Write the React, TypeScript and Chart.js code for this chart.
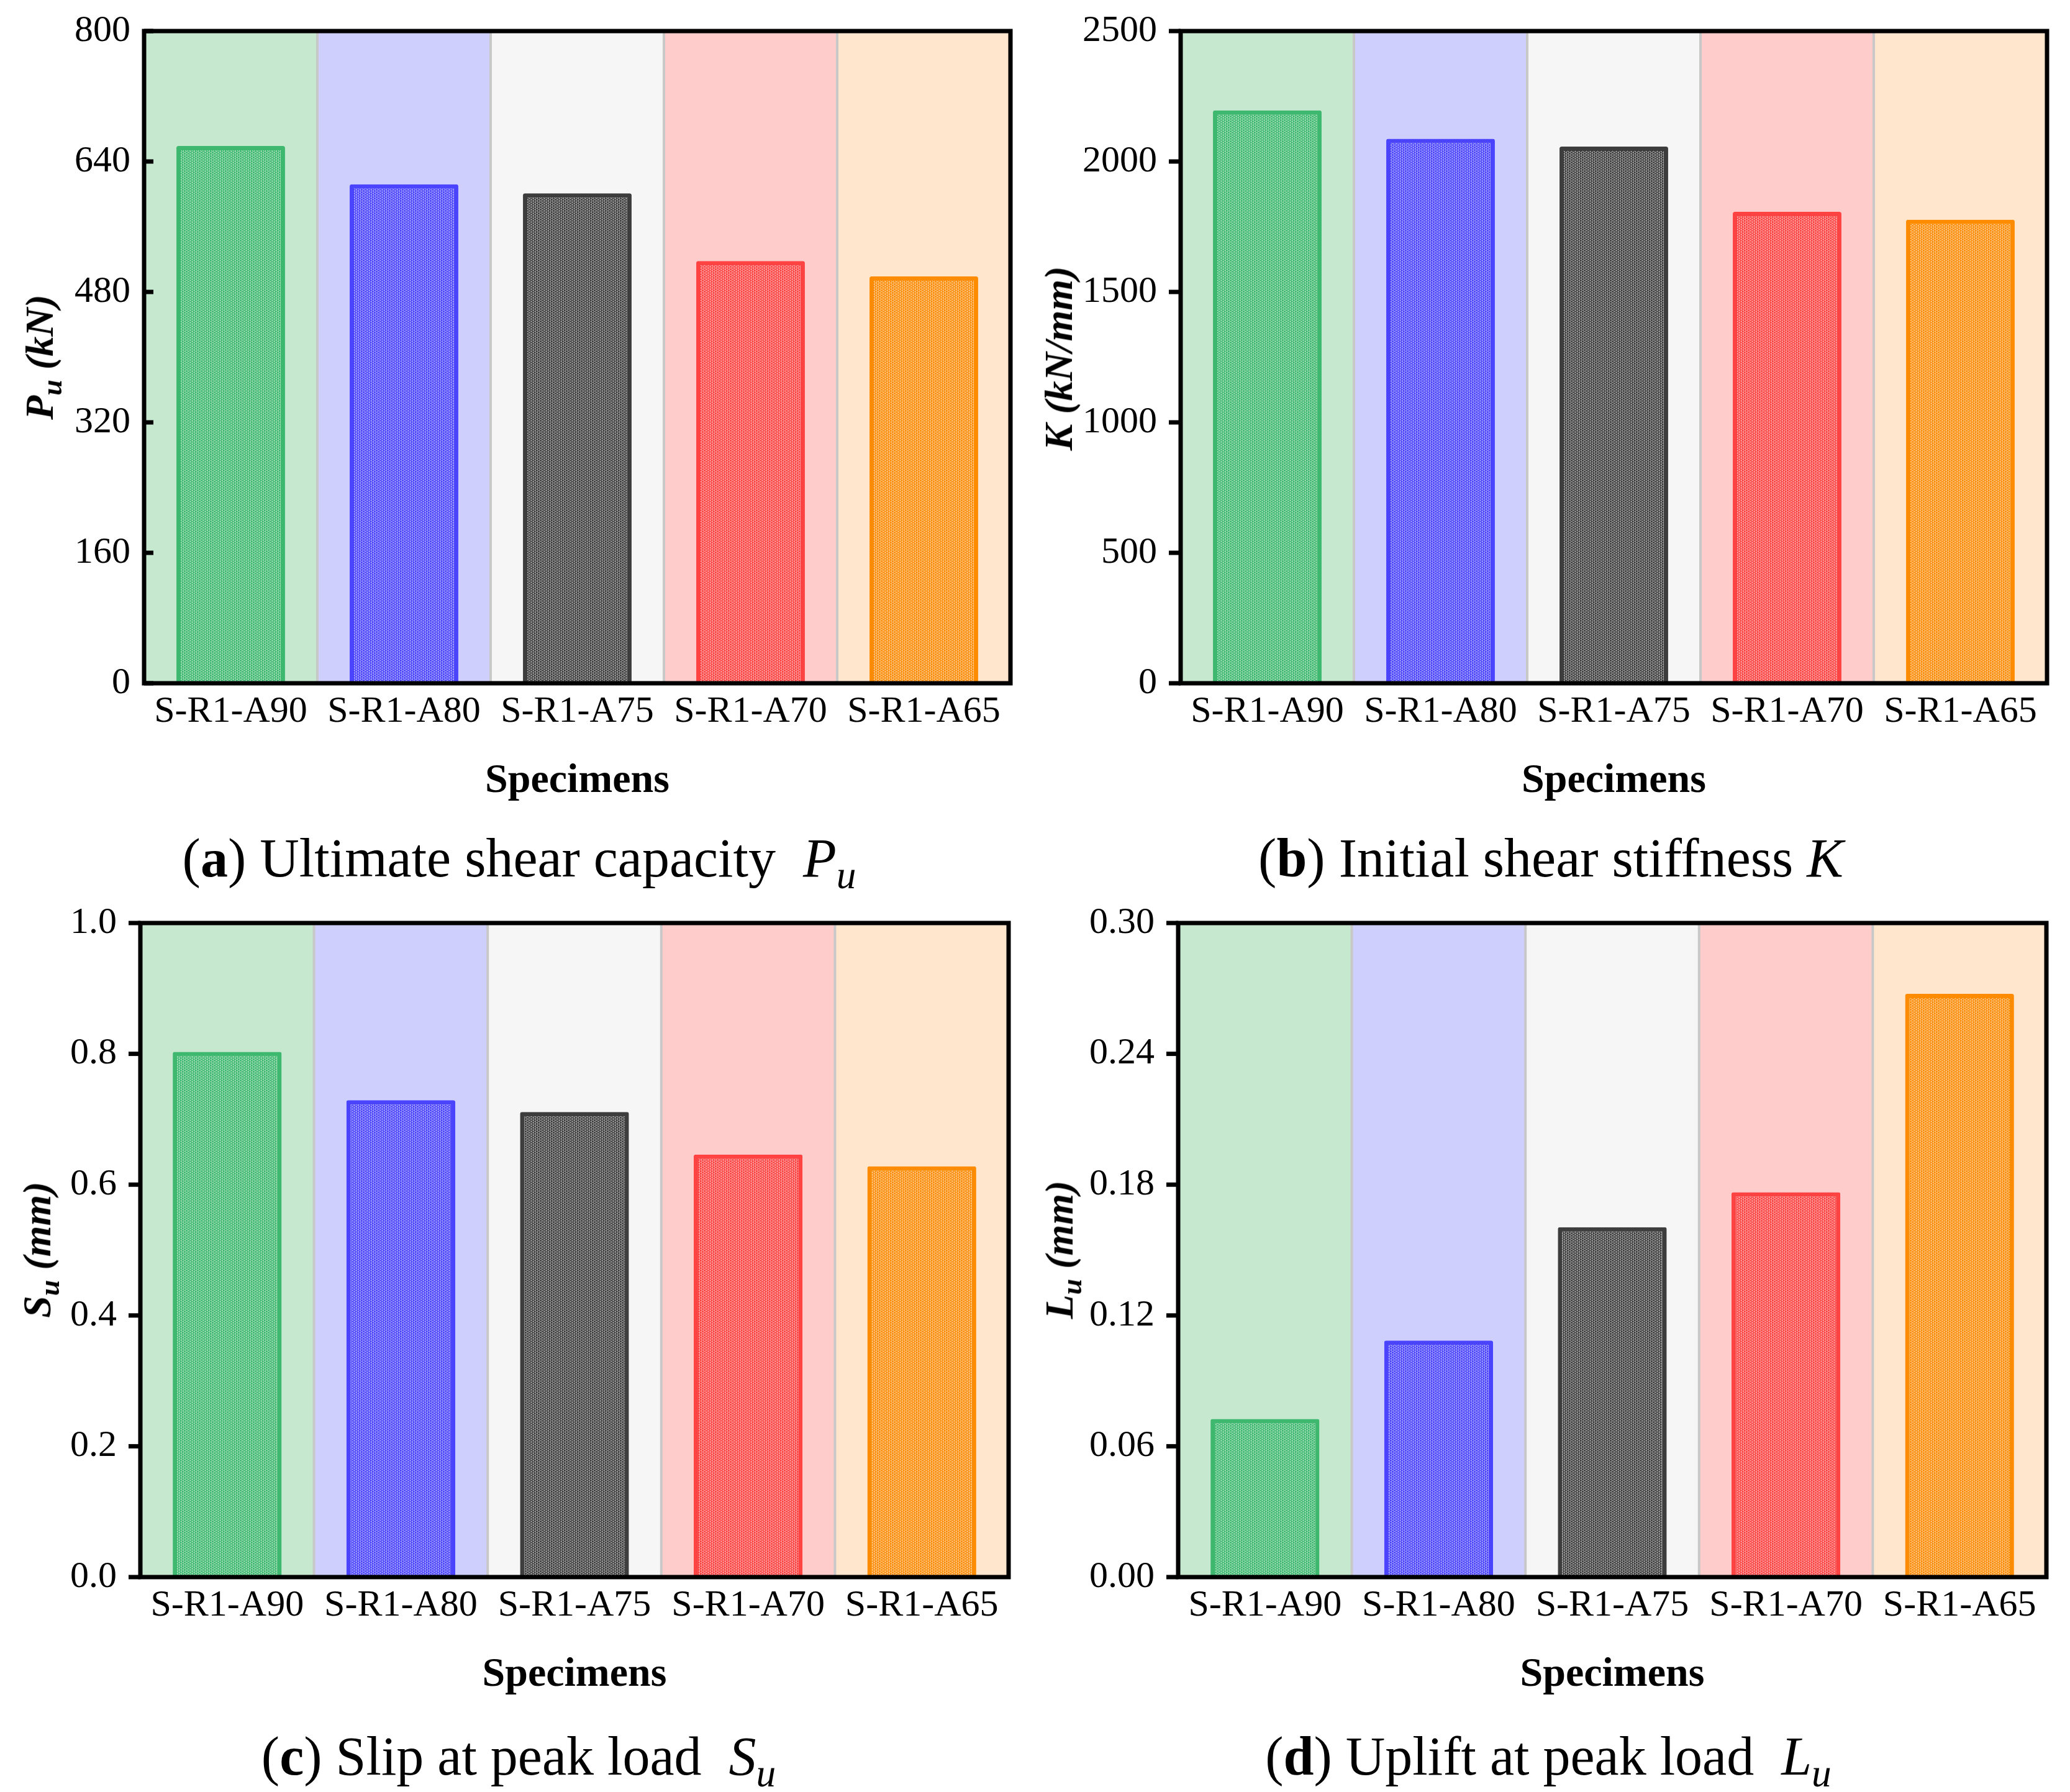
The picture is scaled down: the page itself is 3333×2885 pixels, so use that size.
import React, { useEffect, useRef } from 'react';
import { Chart, registerables } from 'chart.js';

Chart.register(...registerables);

const FONT = '"Liberation Serif", "Times New Roman", serif';

// ---------- data ----------
const SPECIMENS = ['S-R1-A90', 'S-R1-A80', 'S-R1-A75', 'S-R1-A70', 'S-R1-A65'];
const PU_VALUES = [659, 612, 601, 518, 499];
const K_VALUES = [2196, 2087, 2057, 1807, 1777];
const SU_VALUES = [0.803, 0.729, 0.711, 0.646, 0.628];
const LU_VALUES = [0.0725, 0.1085, 0.1605, 0.1765, 0.2675];

const PU_TICKS = [0, 160, 320, 480, 640, 800];
const K_TICKS = [0, 500, 1000, 1500, 2000, 2500];
const SU_TICKS = [0, 0.2, 0.4, 0.6, 0.8, 1.0];
const LU_TICKS = [0, 0.06, 0.12, 0.18, 0.24, 0.3];

const BAND_COLORS = ['#c5e8cf', '#cfcffe', '#f6f6f6', '#ffcccc', '#ffe6cc'];
const BAR_COLORS = ['#3fb86f', '#4b44ff', '#3d3d3d', '#ff4343', '#ff8c00'];
const SEPARATOR_COLOR = '#c8c8c8';

function makePattern(color: string): CanvasPattern | string {
  const c = document.createElement('canvas');
  c.width = 6;
  c.height = 4;
  const g = c.getContext('2d');
  if (!g) return color;
  g.fillStyle = color;
  g.fillRect(0, 0, 6, 4);
  g.fillStyle = 'rgba(255,255,255,0.85)';
  const dots = [
    [1, 0],
    [1, 2],
    [4, 0],
    [4, 2],
    [3, 1],
    [0, 3],
  ];
  dots.forEach(([x, y]) => g.fillRect(x, y, 1, 1));
  const p = g.createPattern(c, 'repeat');
  return p || color;
}

const decoPlugin = {
  id: 'panelDeco',
  beforeDatasetsDraw(chart: any) {
    const { ctx, chartArea: a } = chart;
    const xs = chart.scales.x;
    const n = chart.data.labels.length;
    const half = (xs.getPixelForValue(1) - xs.getPixelForValue(0)) / 2;
    ctx.save();
    for (let i = 0; i < n; i++) {
      const cx = xs.getPixelForValue(i);
      ctx.fillStyle = BAND_COLORS[i % BAND_COLORS.length];
      ctx.fillRect(cx - half, a.top, half * 2, a.bottom - a.top);
    }
    ctx.fillStyle = SEPARATOR_COLOR;
    for (let i = 1; i < n; i++) {
      const bx = xs.getPixelForValue(i) - half;
      ctx.fillRect(bx - 2, a.top, 4, a.bottom - a.top);
    }
    ctx.restore();
  },
  afterDraw(chart: any, _args: any, opts: any) {
    const { ctx, chartArea: a } = chart;
    const ys = chart.scales.y;
    ctx.save();
    ctx.fillStyle = '#000';
    const inward = opts && opts.tickDir === 'in';
    ys.ticks.forEach((t: any) => {
      const py = ys.getPixelForValue(t.value);
      if (inward) ctx.fillRect(a.left, py - 3.5, 15, 7);
      else ctx.fillRect(a.left - 19, py - 3.5, 19, 7);
    });
    ctx.lineWidth = 7;
    ctx.strokeStyle = '#000';
    ctx.strokeRect(a.left, a.top, a.right - a.left, a.bottom - a.top);
    ctx.restore();
  },
};

type PanelProps = {
  values: number[];
  ticks: number[];
  decimals: number;
  tickDir: 'in' | 'out';
  left: number;
  top: number;
  width: number;
  height: number;
  areaLeft: number;
  areaTop: number;
  areaRight: number;
  areaBottom: number;
};

function Panel(p: PanelProps) {
  const ref = useRef<HTMLCanvasElement | null>(null);
  useEffect(() => {
    if (!ref.current) return;
    const patterns = BAR_COLORS.map((c) => makePattern(c));
    const xHeight = 191;
    const chart = new Chart(ref.current, {
      type: 'bar',
      data: {
        labels: SPECIMENS,
        datasets: [
          {
            data: p.values,
            backgroundColor: patterns as any,
            borderColor: BAR_COLORS,
            borderWidth: 7,
            borderRadius: 3,
            barPercentage: 0.627,
            categoryPercentage: 1,
          },
        ],
      },
      plugins: [decoPlugin],
      options: {
        responsive: false,
        animation: false,
        devicePixelRatio: 1,
        layout: {
          padding: {
            left: 0,
            top: p.areaTop,
            right: p.width - p.areaRight,
            bottom: p.height - p.areaBottom - xHeight,
          },
        },
        plugins: {
          legend: { display: false },
          tooltip: { enabled: false },
          panelDeco: { tickDir: p.tickDir },
        } as any,
        scales: {
          x: {
            type: 'category',
            offset: true,
            grid: { display: false, drawTicks: false },
            border: { display: false },
            ticks: {
              color: '#000',
              font: { family: FONT, size: 60, lineHeight: 1 },
              padding: 16,
              maxRotation: 0,
              autoSkip: false,
            },
            title: {
              display: true,
              text: 'Specimens',
              color: '#000',
              font: { family: FONT, size: 66, weight: 'bold', lineHeight: 1 },
              padding: { top: 0, bottom: 0 },
            },
            afterFit: (s: any) => {
              s.height = xHeight;
              s.paddingLeft = 0;
              s.paddingRight = 0;
            },
          },
          y: {
            min: p.ticks[0],
            max: p.ticks[p.ticks.length - 1],
            grid: { display: false, drawTicks: false },
            border: { display: false },
            afterBuildTicks: (s: any) => {
              s.ticks = p.ticks.map((v) => ({ value: v }));
            },
            ticks: {
              color: '#000',
              font: { family: FONT, size: 60, lineHeight: 1 },
              padding: p.tickDir === 'in' ? 22 : 38,
              callback: (v: any) => Number(v).toFixed(p.decimals),
            },
            afterFit: (s: any) => {
              s.width = p.areaLeft;
              s.paddingTop = 0;
              s.paddingBottom = 0;
            },
          },
        },
      } as any,
    });
    return () => chart.destroy();
  }, []);
  return (
    <canvas
      ref={ref}
      width={p.width}
      height={p.height}
      style={{ position: 'absolute', left: p.left, top: p.top, width: p.width, height: p.height, display: 'block' }}
    />
  );
}

function YTitle({ x, y, sym, sub, unit }: { x: number; y: number; sym: string; sub?: string; unit: string }) {
  return (
    <div
      style={{
        position: 'absolute',
        left: x,
        top: y,
        transform: 'translate(-50%, -50%) rotate(-90deg)',
        fontFamily: FONT,
        fontWeight: 'bold',
        fontStyle: 'italic',
        fontSize: 64,
        lineHeight: 1,
        whiteSpace: 'nowrap',
        color: '#000',
      }}
    >
      {sym}
      {sub ? (
        <span style={{ fontSize: '0.72em', position: 'relative', top: '0.3em' }}>{sub}</span>
      ) : null}
      {'\u00a0'}
      {unit}
    </div>
  );
}

function Caption({ x, y, letter, text, sym, sub }: { x: number; y: number; letter: string; text: string; sym: string; sub?: string }) {
  return (
    <div
      style={{
        position: 'absolute',
        left: x,
        top: y,
        transform: 'translate(-50%, -50%)',
        fontFamily: FONT,
        fontSize: 88,
        lineHeight: 1,
        whiteSpace: 'nowrap',
        color: '#000',
      }}
    >
      (<b>{letter}</b>) {text}
      <i>{sym}</i>
      {sub ? (
        <i style={{ fontSize: '0.72em', position: 'relative', top: '0.3em' }}>{sub}</i>
      ) : null}
    </div>
  );
}

export default function App() {
  return (
    <div style={{ position: 'absolute', left: 0, top: 0, width: 3333, height: 2885, background: '#fff', overflow: 'hidden' }}>
      <Panel
        values={PU_VALUES}
        ticks={PU_TICKS}
        decimals={0}
        tickDir="in"
        left={0}
        top={0}
        width={1666}
        height={1330}
        areaLeft={232}
        areaTop={50}
        areaRight={1627}
        areaBottom={1100}
      />
      <Panel
        values={K_VALUES}
        ticks={K_TICKS}
        decimals={0}
        tickDir="out"
        left={1666}
        top={0}
        width={1667}
        height={1330}
        areaLeft={235}
        areaTop={50}
        areaRight={1630}
        areaBottom={1100}
      />
      <Panel
        values={SU_VALUES}
        ticks={SU_TICKS}
        decimals={1}
        tickDir="out"
        left={0}
        top={1440}
        width={1666}
        height={1330}
        areaLeft={226}
        areaTop={46}
        areaRight={1624}
        areaBottom={1099}
      />
      <Panel
        values={LU_VALUES}
        ticks={LU_TICKS}
        decimals={2}
        tickDir="out"
        left={1666}
        top={1440}
        width={1667}
        height={1330}
        areaLeft={231}
        areaTop={46}
        areaRight={1629}
        areaBottom={1099}
      />
      <YTitle x={64} y={575} sym="P" sub="u" unit="(kN)" />
      <YTitle x={1705} y={577} sym="K" unit="(kN/mm)" />
      <YTitle x={60} y={2012} sym="S" sub="u" unit="(mm)" />
      <YTitle x={1706} y={2012} sym="L" sub="u" unit="(mm)" />
      <Caption x={836} y={1382} letter="a" text={'Ultimate shear capacity\u00a0\u00a0'} sym="P" sub="u" />
      <Caption x={2497} y={1382} letter="b" text={'Initial shear stiffness '} sym="K" />
      <Caption x={835} y={2828} letter="c" text={'Slip at peak load\u00a0\u00a0'} sym="S" sub="u" />
      <Caption x={2493} y={2828} letter="d" text={'Uplift at peak load\u00a0\u00a0'} sym="L" sub="u" />
    </div>
  );
}
